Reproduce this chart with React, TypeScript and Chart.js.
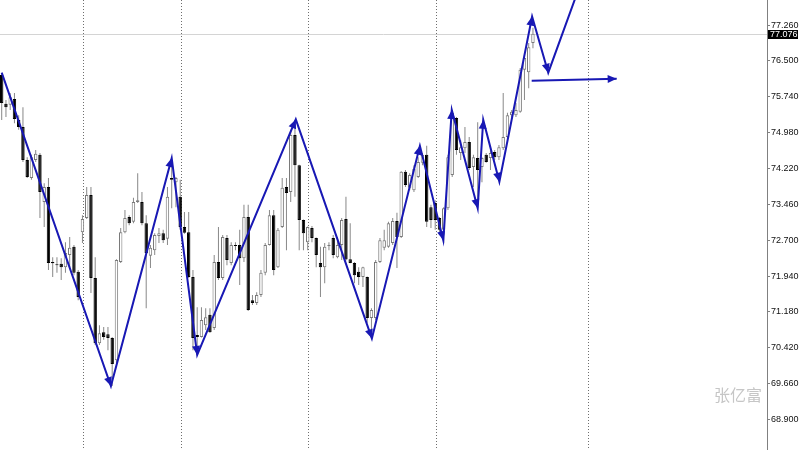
import React, { useEffect, useRef } from 'react';
import { Chart, registerables } from 'chart.js';

Chart.register(...registerables);

// ---- data (candle i is the i-th bar from the left) ----
const opens = [
  76.20, 75.59, 75.57, 75.69, 75.25, 75.10, 74.40, 74.02, 74.40, 74.51,
  73.51, 73.83, 72.24, 72.18, 72.20, 72.13, 72.39, 72.56, 72.03, 72.87,
  73.17, 73.66, 71.90, 70.52, 70.75, 70.71, 70.63, 70.16, 72.24, 72.87,
  73.19, 73.09, 73.51, 73.51, 73.06, 72.37, 72.49, 72.79, 72.85, 72.73,
  74.02, 73.93, 73.62, 72.98, 72.87, 71.92, 70.69, 70.65, 70.90, 71.12,
  70.84, 72.24, 71.90, 72.75, 72.22, 72.60, 72.60, 72.32, 73.19, 71.43,
  71.37, 71.54, 72.01, 72.60, 73.23, 72.13, 72.98, 73.83, 73.72, 74.93,
  74.29, 73.13, 72.66, 72.96, 72.75, 72.22, 72.13, 72.58, 72.75, 72.34,
  72.60, 73.15, 72.30, 72.22, 72.03, 71.92, 71.92, 71.05, 71.05, 72.24,
  72.54, 72.56, 72.64, 73.11, 72.77, 74.15, 73.81, 73.76, 74.04, 74.34,
  74.51, 73.40, 73.49, 73.17, 72.92, 73.38, 74.08, 75.29, 74.55, 74.65,
  74.78, 74.25, 74.44, 74.25, 74.51, 74.44, 74.57, 74.46, 74.65, 74.89,
  75.35, 75.35, 75.42, 76.31, 76.26, 76.88,
];
const highs = [
  76.24, 75.67, 75.82, 75.82, 75.35, 75.52, 74.46, 74.51, 74.61, 74.55,
  73.91, 74.02, 72.34, 72.34, 72.32, 72.66, 72.77, 72.60, 72.07, 73.23,
  73.83, 73.83, 72.34, 70.90, 70.86, 70.86, 70.65, 72.30, 72.96, 73.34,
  73.23, 73.60, 74.12, 73.72, 73.23, 72.60, 72.85, 72.96, 72.92, 73.83,
  74.40, 74.04, 73.98, 73.30, 73.30, 72.07, 71.28, 71.28, 71.26, 71.26,
  72.39, 72.98, 72.81, 72.81, 72.66, 72.66, 72.92, 73.45, 73.45, 71.54,
  71.60, 72.07, 72.64, 73.34, 73.34, 72.96, 74.02, 74.02, 75.04, 75.25,
  74.30, 73.14, 72.99, 73.00, 72.76, 72.56, 72.64, 72.66, 72.81, 72.77,
  73.17, 73.62, 73.06, 72.24, 72.13, 72.14, 71.93, 71.26, 72.28, 72.75,
  72.92, 73.09, 73.17, 73.28, 74.16, 74.19, 74.12, 74.29, 74.46, 74.55,
  74.70, 73.45, 73.55, 73.19, 73.40, 74.51, 75.46, 75.31, 74.82, 75.10,
  74.89, 74.51, 75.20, 74.46, 74.55, 74.67, 74.61, 74.72, 75.82, 75.40,
  75.46, 75.61, 76.35, 76.62, 76.88, 77.20,
];
const lows = [
  75.25, 75.31, 75.46, 75.18, 75.04, 74.36, 74.02, 73.98, 74.36, 73.17,
  72.98, 72.07, 71.92, 72.01, 71.86, 72.01, 72.13, 71.96, 71.43, 72.64,
  73.15, 71.58, 70.48, 70.48, 70.59, 70.37, 69.61, 70.10, 72.22, 72.85,
  73.02, 73.06, 73.49, 73.02, 71.26, 72.11, 72.39, 72.64, 72.64, 72.60,
  73.38, 73.40, 72.92, 72.84, 71.90, 70.37, 70.27, 70.64, 70.80, 70.74,
  70.80, 71.86, 71.86, 72.17, 72.17, 72.49, 71.75, 72.24, 71.20, 71.33,
  71.33, 71.50, 71.96, 72.59, 71.96, 72.11, 72.96, 72.49, 73.51, 73.62,
  72.49, 72.49, 72.49, 72.66, 72.13, 71.50, 71.79, 72.49, 72.32, 72.32,
  72.28, 72.27, 72.21, 71.79, 71.75, 71.71, 70.95, 70.63, 71.01, 72.22,
  72.49, 72.54, 72.60, 72.11, 72.75, 73.83, 73.76, 73.72, 74.02, 74.29,
  72.98, 72.96, 72.92, 72.85, 72.64, 73.34, 74.04, 74.51, 74.40, 74.55,
  74.19, 73.83, 73.38, 73.93, 74.34, 74.19, 74.40, 74.40, 74.61, 74.85,
  75.31, 75.31, 75.40, 75.67, 75.92, 76.77,
];
const closes = [
  75.61, 75.52, 75.73, 75.27, 75.10, 74.40, 74.04, 74.46, 74.53, 73.72,
  73.83, 72.22, 72.21, 72.17, 72.13, 72.43, 72.54, 72.01, 71.50, 73.15,
  73.66, 71.90, 70.52, 70.73, 70.65, 70.63, 70.08, 72.28, 72.87, 73.17,
  73.06, 73.51, 73.55, 73.06, 72.43, 72.54, 72.81, 72.85, 72.70, 73.62,
  73.98, 74.02, 72.98, 72.86, 71.92, 70.63, 70.65, 71.01, 71.07, 70.75,
  72.24, 71.90, 72.77, 72.28, 72.60, 72.58, 72.32, 73.19, 71.22, 71.37,
  71.54, 72.01, 72.60, 73.23, 72.07, 72.92, 73.81, 73.70, 74.93, 74.29,
  73.13, 72.85, 72.98, 72.75, 72.39, 72.13, 72.56, 72.59, 72.39, 72.60,
  73.13, 72.29, 72.22, 71.96, 71.92, 72.13, 71.05, 71.22, 72.24, 72.70,
  72.70, 73.06, 73.11, 72.77, 74.15, 73.87, 74.08, 74.21, 74.36, 74.51,
  73.09, 73.13, 73.13, 72.92, 73.38, 74.46, 75.40, 74.61, 74.67, 74.78,
  74.23, 74.46, 74.19, 74.44, 74.36, 74.55, 74.46, 74.67, 74.89, 75.35,
  75.42, 75.46, 76.31, 76.56, 76.79, 77.076,
];

// hand-drawn zigzag (bar position, price)
const zigzagX = [0, 25.7, 40.0, 46.0, 69.2, 87.1, 98.4, 103.9, 105.9, 112.0, 113.3, 117.1, 124.8, 128.6, 136.5];
const zigzagY = [76.25, 69.61, 74.44, 70.27, 75.26, 70.62, 74.70, 72.70, 75.46, 73.38, 75.25, 73.94, 77.44, 76.25, 78.21];
const targetX = [124.7, 144.7];
const targetY = [76.08, 76.12];

const separators = [19.13, 42.19, 72.07, 102.19, 137.95];
const priceTicks = [68.9, 69.66, 70.42, 71.18, 71.94, 72.7, 73.46, 74.22, 74.98, 75.74, 76.5, 77.26];
const lastPrice = 77.076;
const watermark = '张亿富';

const ZIG = '#1818b4';

function drawArrow(ctx: CanvasRenderingContext2D, x0: number, y0: number, x1: number, y1: number) {
  const ang = Math.atan2(y1 - y0, x1 - x0);
  const L = 9, W = 4;
  const bx = x1 - L * Math.cos(ang), by = y1 - L * Math.sin(ang);
  ctx.beginPath();
  ctx.moveTo(x1, y1);
  ctx.lineTo(bx + W * Math.sin(ang), by - W * Math.cos(ang));
  ctx.lineTo(bx - W * Math.sin(ang), by + W * Math.cos(ang));
  ctx.closePath();
  ctx.fill();
}

const overlay = {
  id: 'overlay',
  beforeDatasetsDraw(chart: any) {
    const { ctx, chartArea: a, scales } = chart;
    const x = scales.x, y = scales.y;
    ctx.save();
    ctx.lineWidth = 1;
    const py = Math.round(y.getPixelForValue(lastPrice)) + 0.5;
    ctx.strokeStyle = '#d4d4d4';
    ctx.beginPath(); ctx.moveTo(a.left, py); ctx.lineTo(a.right, py); ctx.stroke();
    ctx.strokeStyle = '#6e6e6e';
    ctx.setLineDash([1, 2]);
    separators.forEach((s) => {
      const px = Math.round(x.getPixelForValue(s)) + 0.5;
      ctx.beginPath(); ctx.moveTo(px, a.top); ctx.lineTo(px, a.bottom); ctx.stroke();
    });
    ctx.setLineDash([]);
    ctx.fillStyle = '#c6c6c6';
    ctx.font = '16px "Noto Sans CJK SC"';
    ctx.textAlign = 'center';
    ctx.textBaseline = 'middle';
    ctx.fillText(watermark, a.right - 29, a.bottom - 55);
    ctx.restore();
  },
  afterDatasetsDraw(chart: any) {
    const { ctx, chartArea: a, scales } = chart;
    const x = scales.x, y = scales.y;
    ctx.save();
    ctx.beginPath(); ctx.rect(a.left, a.top, a.right - a.left, a.bottom - a.top); ctx.clip();
    ctx.fillStyle = ZIG;
    for (let k = 1; k < zigzagX.length - 1; k++) {
      drawArrow(ctx,
        x.getPixelForValue(zigzagX[k - 1]), y.getPixelForValue(zigzagY[k - 1]),
        x.getPixelForValue(zigzagX[k]), y.getPixelForValue(zigzagY[k]));
    }
    drawArrow(ctx,
      x.getPixelForValue(targetX[0]), y.getPixelForValue(targetY[0]),
      x.getPixelForValue(targetX[1]), y.getPixelForValue(targetY[1]));
    ctx.restore();
  },
  afterDraw(chart: any) {
    const { ctx, chartArea: a, scales } = chart;
    const y = scales.y;
    const py = Math.round(y.getPixelForValue(lastPrice));
    ctx.save();
    ctx.fillStyle = '#000';
    ctx.fillRect(a.right + 1, py - 4, 30, 9);
    ctx.fillStyle = '#fff';
    ctx.font = '9px "Liberation Sans", Arial, sans-serif';
    ctx.textAlign = 'left';
    ctx.textBaseline = 'middle';
    ctx.fillText(lastPrice.toFixed(3), a.right + 3, py + 0.5);
    ctx.restore();
  },
};

export default function App() {
  const ref = useRef<HTMLCanvasElement>(null);
  useEffect(() => {
    document.body.style.margin = '0';
    const idx = opens.map((_, i) => i);
    const bull = idx.map((i) => closes[i] >= opens[i]);
    const chart = new Chart(ref.current as HTMLCanvasElement, {
      type: 'bar',
      data: {
        datasets: [
          {
            type: 'line',
            data: zigzagX.map((v, i) => ({ x: v, y: zigzagY[i] })),
            borderColor: ZIG,
            borderWidth: 2,
            pointRadius: 0,
            tension: 0,
            order: 0,
          } as any,
          {
            type: 'line',
            data: targetX.map((v, i) => ({ x: v, y: targetY[i] })),
            borderColor: ZIG,
            borderWidth: 2,
            pointRadius: 0,
            tension: 0,
            order: 0,
          } as any,
          {
            type: 'bar',
            data: idx.map((i) => ({ x: i, y: [opens[i], closes[i]] })),
            backgroundColor: bull.map((b) => (b ? '#ffffff' : '#000000')),
            borderColor: bull.map((b) => (b ? '#7a7a7a' : '#000000')),
            borderWidth: 1,
            borderSkipped: false,
            barThickness: 3.4,
            minBarLength: 1,
            grouped: false,
            inflateAmount: 0,
            order: 1,
          } as any,
          {
            type: 'bar',
            data: idx.map((i) => ({ x: i, y: [lows[i], highs[i]] })),
            backgroundColor: '#888888',
            borderWidth: 0,
            barThickness: 1,
            grouped: false,
            inflateAmount: 0,
            order: 2,
          } as any,
        ],
      },
      options: {
        animation: false,
        responsive: false,
        devicePixelRatio: 1,
        events: [],
        layout: { padding: 0 },
        plugins: { legend: { display: false }, tooltip: { enabled: false } },
        scales: {
          x: { type: 'linear', display: false, min: -0.4, max: 180.07, offset: false },
          y: {
            type: 'linear',
            position: 'right',
            min: 68.256,
            max: 77.79,
            afterBuildTicks: (s: any) => { s.ticks = priceTicks.map((v) => ({ value: v })); },
            afterFit: (s: any) => { s.width = 33; s.paddingTop = 0; s.paddingBottom = 0; },
            ticks: {
              autoSkip: false,
              padding: 1,
              color: '#111',
              font: { family: '"Liberation Sans", Arial, sans-serif', size: 9 },
              callback: (v: any) => Number(v).toFixed(3),
            },
            grid: { display: true, drawOnChartArea: false, drawTicks: true, tickLength: 3, color: '#808080' },
            border: { display: true, color: '#808080' },
          },
        },
      } as any,
      plugins: [overlay],
    });
    return () => chart.destroy();
  }, []);
  return (
    <div style={{ width: 800, height: 450, background: '#fff' }}>
      <canvas ref={ref} width={800} height={450} style={{ display: 'block' }} />
    </div>
  );
}
